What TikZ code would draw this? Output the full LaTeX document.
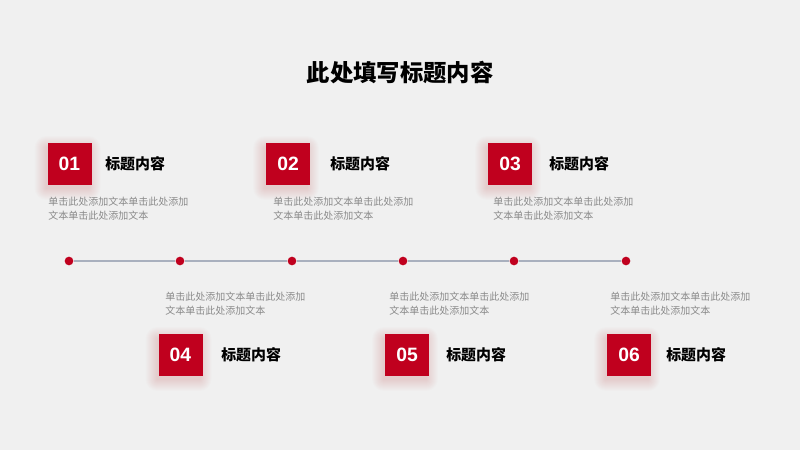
\documentclass[tikz,border=0pt]{standalone}
\usepackage{fontspec}
\setmainfont{Noto Sans CJK SC}
\newfontfamily\cjk{Noto Sans CJK SC}
\newfontfamily\numfont{Liberation Sans}
\definecolor{bg}{HTML}{F0F0F0}
\definecolor{mainred}{HTML}{C0001E}
\definecolor{linegray}{HTML}{A9B0BE}
\definecolor{desc}{HTML}{8A8A8A}
\tikzset{
  numbox/.style={fill=mainred, minimum width=33pt, minimum height=32pt, inner sep=0pt,
    text=white, font=\numfont\bfseries\fontsize{14.5pt}{14.5pt}\selectfont},
  headtext/.style={anchor=west, inner sep=0pt, font=\cjk\bfseries\fontsize{11.2pt}{12pt}\selectfont, text=black},
  desctext/.style={anchor=north west, inner sep=0pt, align=left, text=desc, font=\cjk\fontsize{7.5pt}{10.6pt}\selectfont},
  dot/.style={circle, fill=mainred, minimum size=6.5pt, inner sep=0pt},
  tline/.style={draw=linegray, line width=1.1pt},
  shadowlayer/.style={fill=mainred, fill opacity=0.012, draw=none}
}
\newcommand{\softshadow}[2]{%
  \foreach \k in {1,...,12} {
    \fill[shadowlayer, rounded corners=\k*0.75pt] ({#1-21-\k-2},{#2-20-\k+4}) rectangle ({#1+21+\k-2},{#2+20+\k+4});
  }%
}
\begin{document}
\begin{tikzpicture}[x=0.75pt, y=-0.75pt]
\fill[bg] (0,0) rectangle (800,450);
\useasboundingbox (0,0) rectangle (800,450);

\node[font=\cjk\bfseries\fontsize{17.5pt}{18pt}\selectfont, inner sep=0pt] (title) at (400,73) {此处填写标题内容};

% timeline
\node[dot] (d1) at (69,261) {};
\node[dot] (d2) at (180,261) {};
\node[dot] (d3) at (292,261) {};
\node[dot] (d4) at (403,261) {};
\node[dot] (d5) at (514,261) {};
\node[dot] (d6) at (626,261) {};
\draw[tline] (d1) -- (d2);
\draw[tline] (d2) -- (d3);
\draw[tline] (d3) -- (d4);
\draw[tline] (d4) -- (d5);
\draw[tline] (d5) -- (d6);

% shadows
\softshadow{69.5}{164}
\softshadow{288}{164}
\softshadow{510}{164}
\softshadow{180.5}{355}
\softshadow{407}{355}
\softshadow{629}{355}

% upper items
\node[numbox] (n1) at (69.5,164) {01};
\node[headtext] (h1) at (105,164) {标题内容};
\node[desctext] (t1) at (48,197) {单击此处添加文本单击此处添加\\文本单击此处添加文本};

\node[numbox] (n2) at (288,164) {02};
\node[headtext] (h2) at (330,164) {标题内容};
\node[desctext] (t2) at (273,197) {单击此处添加文本单击此处添加\\文本单击此处添加文本};

\node[numbox] (n3) at (510,164) {03};
\node[headtext] (h3) at (549,164) {标题内容};
\node[desctext] (t3) at (493,197) {单击此处添加文本单击此处添加\\文本单击此处添加文本};

% lower items
\node[desctext] (t4) at (165,292) {单击此处添加文本单击此处添加\\文本单击此处添加文本};
\node[numbox] (n4) at (180.5,355) {04};
\node[headtext] (h4) at (221,355) {标题内容};

\node[desctext] (t5) at (389,292) {单击此处添加文本单击此处添加\\文本单击此处添加文本};
\node[numbox] (n5) at (407,355) {05};
\node[headtext] (h5) at (446,355) {标题内容};

\node[desctext] (t6) at (610,292) {单击此处添加文本单击此处添加\\文本单击此处添加文本};
\node[numbox] (n6) at (629,355) {06};
\node[headtext] (h6) at (666,355) {标题内容};
\end{tikzpicture}
\end{document}
